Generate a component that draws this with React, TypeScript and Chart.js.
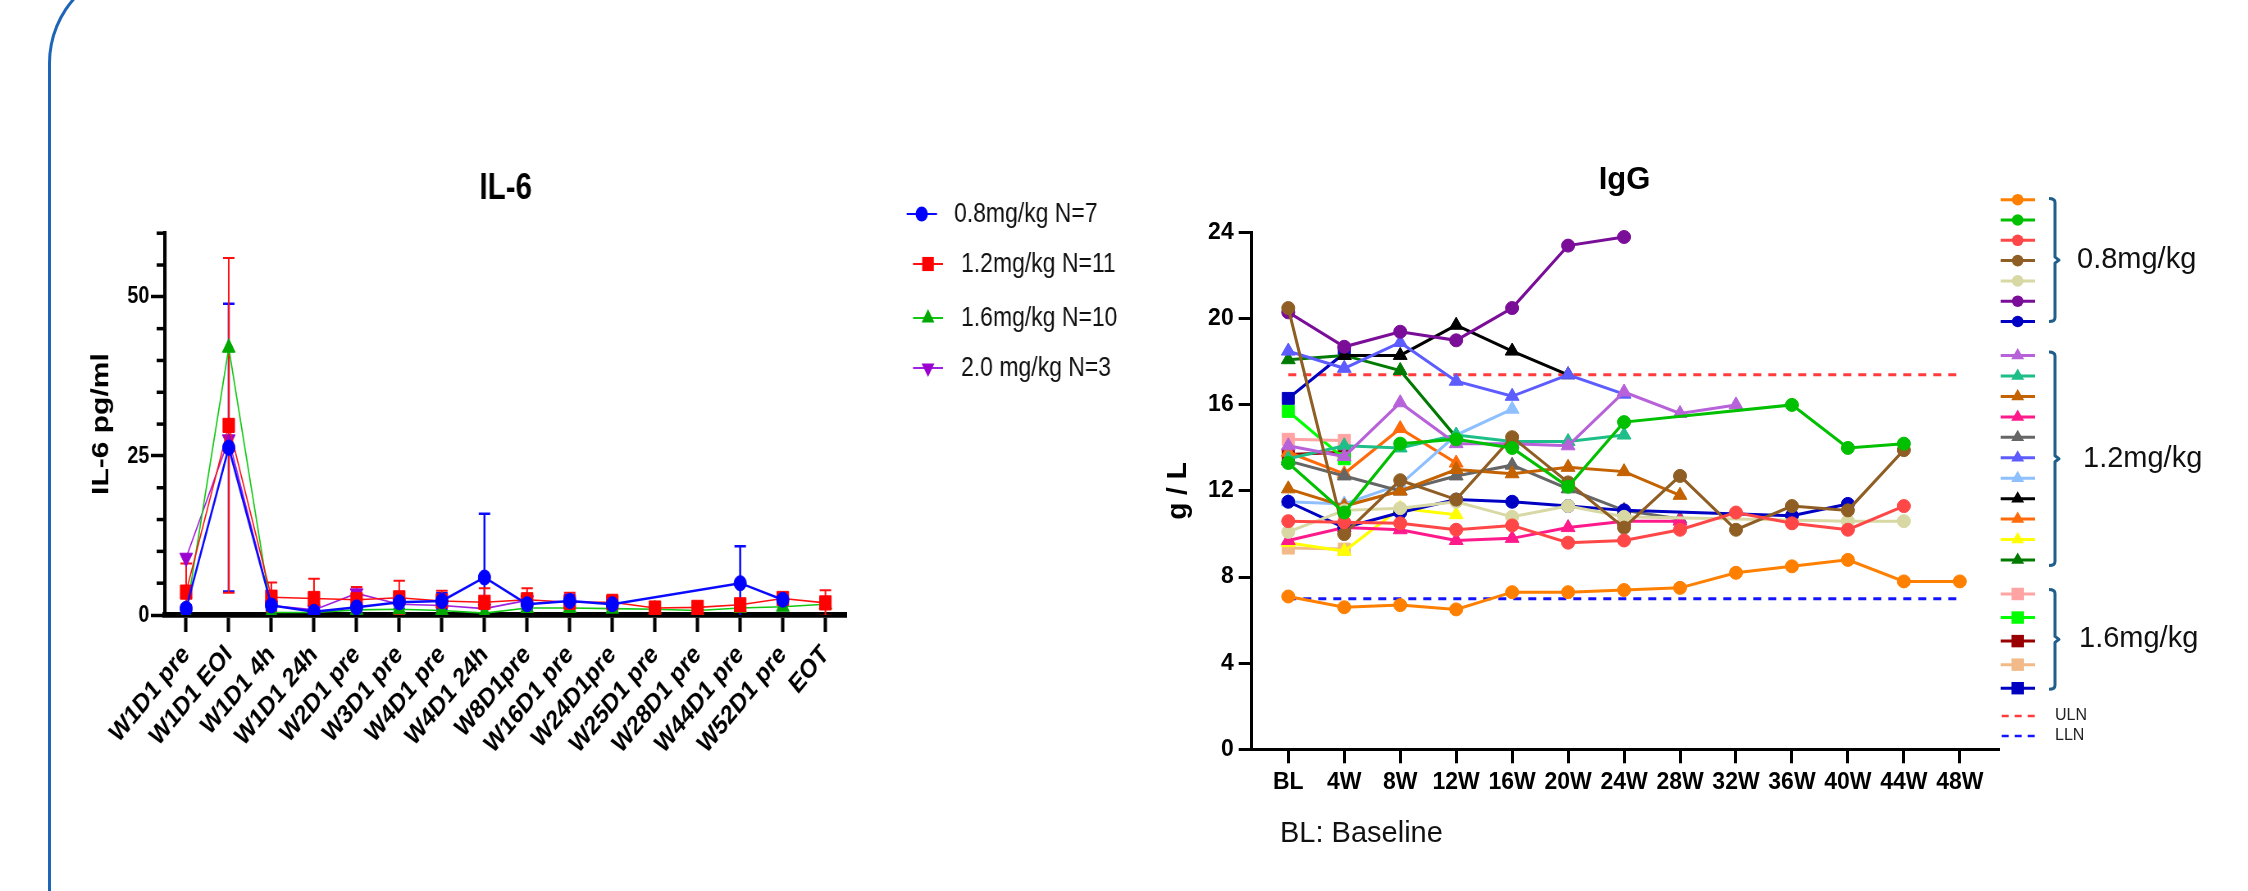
import React, { useEffect, useRef } from 'react';
import { Chart, registerables } from 'chart.js';

Chart.register(...registerables);

const FONT = '"Liberation Sans", Arial, Helvetica, sans-serif';

// ---------------- IL-6 data ----------------
const il6Labels = [
  'W1D1 pre', 'W1D1 EOI', 'W1D1 4h', 'W1D1 24h', 'W2D1 pre', 'W3D1 pre', 'W4D1 pre', 'W4D1 24h',
  'W8D1pre', 'W16D1 pre', 'W24D1pre', 'W25D1 pre', 'W28D1 pre', 'W44D1 pre', 'W52D1 pre', 'EOT',
];
const il6Mean08 = [1.0, 26.3, 1.5, 0.5, 1.2, 2.0, 2.2, 5.9, 1.7, 2.2, 1.7, null, null, 5.0, 2.4, null];
const il6Sd08 = [0.5, 22.6, 0.8, 0.3, 0.6, 1.0, 1.2, 10.0, 0.8, 1.0, 0.6, null, null, 5.8, 0.5, null];
const il6Mean12 = [3.6, 29.8, 2.8, 2.6, 2.4, 2.7, 2.2, 2.0, 2.4, 2.0, 2.0, 1.1, 1.2, 1.6, 2.6, 1.9];
const il6Sd12 = [4.5, 26.3, 2.3, 3.1, 2.0, 2.7, 1.6, 2.2, 1.8, 1.5, 1.2, 0.3, 0.4, 0.8, 0.8, 2.0];
const il6Mean16 = [0.2, 42.0, 0.4, 0.4, 0.8, 0.9, 0.7, 0.3, 1.1, 1.1, 1.0, 0.9, 0.7, 1.1, 1.3, 1.7];
const il6Mean20 = [9.0, 27.6, 1.5, 0.8, 3.4, 1.7, 1.5, 1.0, 2.3, null, null, null, null, null, null, null];
const il6Legend = ['0.8mg/kg N=7', '1.2mg/kg N=11', '1.6mg/kg N=10', '2.0 mg/kg N=3'];

// ---------------- IgG data ----------------
const iggLabels = ['BL', '4W', '8W', '12W', '16W', '20W', '24W', '28W', '32W', '36W', '40W', '44W', '48W'];
const iggULN = 17.4;
const iggLLN = 7.0;
// 0.8 mg/kg (circles)
const igg08Orange = [7.1, 6.6, 6.7, 6.5, 7.3, 7.3, 7.4, 7.5, 8.2, 8.5, 8.8, 7.8, 7.8];
const igg08Green = [13.3, 11.0, 14.2, 14.4, 14.0, 12.2, 15.2, null, null, 16.0, 14.0, 14.2, null];
const igg08Red = [10.6, 10.55, 10.5, 10.2, 10.4, 9.6, 9.7, 10.2, 11.0, 10.5, 10.2, 11.3, null];
const igg08Brown = [20.5, 10.0, 12.5, 11.6, 14.5, 12.4, 10.3, 12.7, 10.2, 11.3, 11.1, 13.9, null];
const igg08Beige = [10.1, 11.1, 11.2, 11.5, 10.8, 11.3, 10.8, null, null, null, 10.6, 10.6, null];
const igg08Purple = [20.3, 18.7, 19.4, 19.0, 20.5, 23.4, 23.8, null, null, null, null, null, null];
const igg08Navy = [11.5, 10.3, 11.0, 11.6, 11.5, 11.3, 11.1, null, null, 10.85, 11.4, null, null];
// 1.2 mg/kg (triangles)
const igg12Orchid = [14.1, 13.6, 16.1, 14.2, 14.2, 14.1, 16.6, 15.6, 16.0, null, null, null, null];
const igg12Teal = [13.5, 14.1, 14.0, 14.6, 14.3, 14.3, 14.6, null, null, null, null, null, null];
const igg12Rust = [12.1, 11.3, 12.0, 13.0, 12.8, 13.1, 12.9, 11.8, null, null, null, null, null];
const igg12Pink = [9.7, 10.3, 10.2, 9.7, 9.8, 10.3, 10.6, 10.6, null, null, null, null, null];
const igg12Gray = [13.4, 12.7, 12.0, 12.7, 13.2, 12.1, 11.1, 10.7, null, null, null, null, null];
const igg12Blue = [18.5, 17.7, 18.9, 17.1, 16.4, 17.4, 16.5, null, null, null, null, null, null];
const igg12Sky = [11.5, 11.4, 12.3, 14.6, 15.8, null, null, null, null, null, null, null, null];
const igg12Black = [null, 18.3, 18.3, 19.7, 18.5, 17.4, null, null, null, null, null, null, null];
const igg12Orange = [13.8, 12.8, 14.9, 13.3, null, null, null, null, null, null, null, null, null];
const igg12Yellow = [9.6, 9.2, 11.2, 10.9, null, null, null, null, null, null, null, null, null];
const igg12Green = [18.1, 18.3, 17.6, 14.5, null, null, null, null, null, null, null, null, null];
// 1.6 mg/kg (squares)
const igg16Pink = [14.4, 14.35, null, null, null, null, null, null, null, null, null, null, null];
const igg16Lime = [15.7, 13.5, null, null, null, null, null, null, null, null, null, null, null];
const igg16Maroon = [13.7, 13.8, null, null, null, null, null, null, null, null, null, null, null];
const igg16Peach = [9.35, 9.3, null, null, null, null, null, null, null, null, null, null, null];
const igg16Navy = [16.3, 18.4, null, null, null, null, null, null, null, null, null, null, null];
const iggGroups = ['0.8mg/kg', '1.2mg/kg', '1.6mg/kg'];

// ---------------- styles ----------------
const iggSeries = [
  { data: igg08Orange, color: '#FF8000', style: 'circle', group: 0 },
  { data: igg08Green, color: '#00C000', style: 'circle', group: 0 },
  { data: igg08Red, color: '#FF4747', style: 'circle', group: 0 },
  { data: igg08Brown, color: '#8F5E24', style: 'circle', group: 0 },
  { data: igg08Beige, color: '#D8D8A4', style: 'circle', group: 0 },
  { data: igg08Purple, color: '#7A0E98', style: 'circle', group: 0 },
  { data: igg08Navy, color: '#0000C4', style: 'circle', group: 0 },
  { data: igg12Orchid, color: '#B862DA', style: 'triangle', group: 1 },
  { data: igg12Teal, color: '#1EBE88', style: 'triangle', group: 1 },
  { data: igg12Rust, color: '#C46200', style: 'triangle', group: 1 },
  { data: igg12Pink, color: '#FF1A8C', style: 'triangle', group: 1 },
  { data: igg12Gray, color: '#666666', style: 'triangle', group: 1 },
  { data: igg12Blue, color: '#5C5CFF', style: 'triangle', group: 1 },
  { data: igg12Sky, color: '#8EC0FF', style: 'triangle', group: 1 },
  { data: igg12Black, color: '#000000', style: 'triangle', group: 1 },
  { data: igg12Orange, color: '#FF6A0A', style: 'triangle', group: 1 },
  { data: igg12Yellow, color: '#FFFF00', style: 'triangle', group: 1 },
  { data: igg12Green, color: '#007A00', style: 'triangle', group: 1 },
  { data: igg16Pink, color: '#FFA3A3', style: 'rect', group: 2 },
  { data: igg16Lime, color: '#00FF00', style: 'rect', group: 2 },
  { data: igg16Maroon, color: '#990000', style: 'rect', group: 2 },
  { data: igg16Peach, color: '#F2BA88', style: 'rect', group: 2 },
  { data: igg16Navy, color: '#0000C0', style: 'rect', group: 2 },
];
const IGG_RADIUS: Record<string, number> = { circle: 6.5, triangle: 8, rect: 8.5 };

const il6Styles = [
  { line: '#0A0AFF', fill: '#0000FF', style: 'circle', rot: 0, radius: 7.5, width: 2.5 },
  { line: '#FF1010', fill: '#FF0000', style: 'rect', rot: 0, radius: 10, width: 1.6 },
  { line: '#10C810', fill: '#00A800', style: 'triangle', rot: 0, radius: 9, width: 1.6 },
  { line: '#A020E0', fill: '#9A00D0', style: 'triangle', rot: 180, radius: 9, width: 1.6 },
];

const S = 0.82; // horizontal compression of the IL-6 panel

function drawMarker(ctx: CanvasRenderingContext2D, style: string, x: number, y: number, r: number, color: string, rot = 0) {
  ctx.save();
  ctx.fillStyle = color;
  ctx.beginPath();
  if (style === 'circle') {
    ctx.arc(x, y, r, 0, Math.PI * 2);
  } else if (style === 'rect') {
    const s = r * Math.SQRT1_2;
    ctx.rect(x - s, y - s, 2 * s, 2 * s);
  } else {
    const d = rot === 180 ? -1 : 1;
    ctx.moveTo(x, y - d * r);
    ctx.lineTo(x + r * 0.866, y + d * r * 0.5);
    ctx.lineTo(x - r * 0.866, y + d * r * 0.5);
    ctx.closePath();
  }
  ctx.fill();
  ctx.restore();
}

function drawText(ctx: CanvasRenderingContext2D, str: string, x: number, y: number, font: string, align: CanvasTextAlign = 'left', rot = 0, color = '#000') {
  ctx.save();
  ctx.translate(x, y);
  if (rot) ctx.rotate(rot);
  ctx.font = font;
  ctx.fillStyle = color;
  ctx.textAlign = align;
  ctx.textBaseline = 'middle';
  ctx.fillText(str, 0, 0);
  ctx.restore();
}

function IL6Panel() {
  const ref = useRef<HTMLCanvasElement>(null);
  useEffect(() => {
    const means = [il6Mean08, il6Mean12, il6Mean16, il6Mean20];
    const sds = [il6Sd08, il6Sd12, null, null];
    const decor = {
      id: 'il6Decor',
      beforeDatasetsDraw(chart: any) {
        const { ctx, chartArea } = chart;
        const ys = chart.scales.y;
        ctx.save();
        ctx.strokeStyle = '#000';
        ctx.lineWidth = 3.5;
        for (let v = 5; v <= 60; v += 5) {
          if (v % 25 === 0) continue;
          const py = ys.getPixelForValue(v);
          ctx.beginPath();
          ctx.moveTo(chartArea.left - 10, py);
          ctx.lineTo(chartArea.left, py);
          ctx.stroke();
        }
        ctx.restore();
        ctx.save();
        ctx.beginPath();
        ctx.rect(chartArea.left, chartArea.top - 5, chartArea.right - chartArea.left, chartArea.bottom - chartArea.top + 5);
        ctx.clip();
        sds.forEach((sd, i) => {
          if (!sd) return;
          const meta = chart.getDatasetMeta(i);
          ctx.strokeStyle = il6Styles[i].line;
          ctx.lineWidth = i === 0 ? 2.5 : 2;
          meta.data.forEach((pt: any, j: number) => {
            const m = means[i][j];
            const e = sd[j];
            if (m == null || e == null) return;
            const yt = ys.getPixelForValue(m + e);
            const yb = ys.getPixelForValue(m - e);
            ctx.beginPath();
            ctx.moveTo(pt.x, yt);
            ctx.lineTo(pt.x, yb);
            ctx.moveTo(pt.x - 7, yt);
            ctx.lineTo(pt.x + 7, yt);
            ctx.moveTo(pt.x - 7, yb);
            ctx.lineTo(pt.x + 7, yb);
            ctx.stroke();
          });
        });
        ctx.restore();
      },
      afterDraw(chart: any) {
        const { ctx, chartArea } = chart;
        drawText(ctx, 'IL-6', (chartArea.left + chartArea.right) / 2, 189, `bold 36px ${FONT}`, 'center');
        drawText(ctx, 'IL-6 pg/ml', 124, (chartArea.top + chartArea.bottom) / 2, `bold 30px ${FONT}`, 'center', -Math.PI / 2);
        const items = [
          { x0: 1105.7, x1: 1142.7, mx: 1124, tx: 1163.4, y: 214 },
          { x0: 1113.4, x1: 1150, mx: 1131.7, tx: 1172, y: 264 },
          { x0: 1113.4, x1: 1150, mx: 1131.7, tx: 1172, y: 318 },
          { x0: 1113.4, x1: 1150, mx: 1131.7, tx: 1172, y: 368 },
        ];
        items.forEach((it, i) => {
          const st = il6Styles[i];
          ctx.save();
          ctx.strokeStyle = st.line;
          ctx.lineWidth = 2;
          ctx.beginPath();
          ctx.moveTo(it.x0, it.y);
          ctx.lineTo(it.x1, it.y);
          ctx.stroke();
          ctx.restore();
          drawMarker(ctx, st.style, it.mx, it.y, st.radius, st.fill, st.rot);
          drawText(ctx, il6Legend[i], it.tx, it.y, `28px ${FONT}`, 'left', 0, '#111');
        });
      },
    };
    const chart = new Chart(ref.current!, {
      type: 'line',
      data: {
        labels: il6Labels,
        datasets: means.map((m, i) => ({
          label: il6Legend[i],
          data: m,
          borderColor: il6Styles[i].line,
          backgroundColor: il6Styles[i].fill,
          pointBackgroundColor: il6Styles[i].fill,
          pointBorderColor: il6Styles[i].fill,
          pointBorderWidth: 1,
          pointStyle: il6Styles[i].style as any,
          pointRotation: il6Styles[i].rot,
          pointRadius: il6Styles[i].radius,
          borderWidth: il6Styles[i].width,
          spanGaps: true,
          tension: 0,
        })),
      },
      options: {
        responsive: false,
        animation: false,
        events: [],
        layout: { padding: { left: 0, top: 233.2, right: 357.4, bottom: 116 } },
        plugins: { legend: { display: false }, title: { display: false }, tooltip: { enabled: false } },
        scales: {
          x: {
            offset: true,
            grid: { display: true, drawOnChartArea: false, drawTicks: true, tickLength: 17, tickWidth: 4.1, tickColor: '#000', offset: false },
            border: { display: true, color: '#000', width: 5.7 },
            ticks: { autoSkip: false, maxRotation: 45, minRotation: 45, color: '#000', padding: 7, font: { family: FONT, size: 27, weight: 'bold' } },
            afterFit: (s: any) => { s.height = 160; },
          },
          y: {
            min: 0,
            max: 60,
            grid: {
              display: true, drawOnChartArea: false, drawTicks: true, tickLength: 17, tickWidth: 3.5,
              tickColor: (c: any) => (c.tick && c.tick.value % 25 === 0 ? '#000' : 'rgba(0,0,0,0)'),
            },
            border: { display: true, color: '#000', width: 4.1 },
            ticks: {
              stepSize: 5, autoSkip: false, color: '#000', padding: 2,
              font: { family: FONT, size: 24, weight: 'bold' },
              callback: (v: any) => (Number(v) % 25 === 0 ? String(v) : ''),
            },
            afterFit: (s: any) => { s.width = 201; },
          },
        },
      },
      plugins: [decor],
    } as any);
    return () => chart.destroy();
  }, []);
  return (
    <canvas
      ref={ref}
      width={1390}
      height={891}
      style={{ position: 'absolute', left: 0, top: 0, transform: `scaleX(${S})`, transformOrigin: '0 0' }}
    />
  );
}

function IgGPanel() {
  const ref = useRef<HTMLCanvasElement>(null);
  useEffect(() => {
    const decor = {
      id: 'iggDecor',
      afterDraw(chart: any) {
        const { ctx, chartArea } = chart;
        drawText(ctx, 'IgG', 474.5, 180, `bold 31px ${FONT}`, 'center');
        drawText(ctx, 'g / L', 28, (chartArea.top + chartArea.bottom) / 2, `bold 28px ${FONT}`, 'center', -Math.PI / 2);
        drawText(ctx, 'BL: Baseline', 130, 834, `29px ${FONT}`, 'left', 0, '#111');
        const groupStart = [199.7, 355.6, 594];
        const groupStep = [20.3, 20.44, 23.55];
        const counters = [0, 0, 0];
        iggSeries.forEach((s) => {
          const g = s.group;
          const y = groupStart[g] + groupStep[g] * counters[g]++;
          ctx.save();
          ctx.strokeStyle = s.color;
          ctx.lineWidth = 3;
          ctx.beginPath();
          ctx.moveTo(850.7, y);
          ctx.lineTo(885, y);
          ctx.stroke();
          ctx.restore();
          const r = s.style === 'circle' ? 5.8 : s.style === 'triangle' ? 7.5 : 8.8;
          drawMarker(ctx, s.style, 867.7, y, r, s.color);
        });
        const brackets = [
          { top: 198.6, bot: 321.6, tx: 927 },
          { top: 352, bot: 565.5, tx: 933 },
          { top: 589.5, bot: 689.3, tx: 929 },
        ];
        brackets.forEach((b, i) => {
          const x = 905;
          const mid = (b.top + b.bot) / 2;
          ctx.save();
          ctx.strokeStyle = '#1F5F8C';
          ctx.lineWidth = 3;
          ctx.lineJoin = 'round';
          ctx.beginPath();
          ctx.moveTo(x - 6, b.top);
          ctx.quadraticCurveTo(x, b.top, x, b.top + 4);
          ctx.lineTo(x, mid - 3);
          ctx.lineTo(x + 4, mid);
          ctx.lineTo(x, mid + 3);
          ctx.lineTo(x, b.bot - 4);
          ctx.quadraticCurveTo(x, b.bot, x - 6, b.bot);
          ctx.stroke();
          ctx.restore();
          drawText(ctx, iggGroups[i], b.tx, mid, `29px ${FONT}`, 'left', 0, '#111');
        });
        [['ULN', '#FF3B3B', 716], ['LLN', '#1414FF', 736]].forEach(([t, c, y]: any) => {
          ctx.save();
          ctx.strokeStyle = c;
          ctx.lineWidth = 2.5;
          ctx.setLineDash([7, 6]);
          ctx.beginPath();
          ctx.moveTo(851.7, y);
          ctx.lineTo(886, y);
          ctx.stroke();
          ctx.restore();
          drawText(ctx, t, 905, y, `16px ${FONT}`, 'left', 0, '#222');
        });
      },
    };
    const last = iggLabels.length - 1;
    const datasets: any[] = iggSeries.map((s) => ({
      data: s.data.map((v, i) => ({ x: i, y: v })),
      borderColor: s.color,
      backgroundColor: s.color,
      pointBackgroundColor: s.color,
      pointBorderColor: s.color,
      pointBorderWidth: 1,
      pointStyle: s.style,
      pointRadius: IGG_RADIUS[s.style],
      borderWidth: 3,
      spanGaps: true,
      tension: 0,
      clip: false,
    }));
    datasets.push({
      data: [{ x: 0, y: iggULN }, { x: last, y: iggULN }],
      borderColor: '#FF3B3B', borderDash: [8, 7], borderWidth: 3, pointRadius: 0, clip: false,
    });
    datasets.push({
      data: [{ x: 0, y: iggLLN }, { x: last, y: iggLLN }],
      borderColor: '#1414FF', borderDash: [8, 7], borderWidth: 3, pointRadius: 0, clip: false,
    });
    const chart = new Chart(ref.current!, {
      type: 'line',
      data: { datasets },
      options: {
        responsive: false,
        animation: false,
        events: [],
        layout: { padding: { left: 0, top: 232.7, right: 249, bottom: 81.7 } },
        plugins: { legend: { display: false }, title: { display: false }, tooltip: { enabled: false } },
        scales: {
          x: {
            type: 'linear',
            min: -0.654,
            max: 12.7,
            afterBuildTicks: (s: any) => { s.ticks = iggLabels.map((_, i) => ({ value: i })); },
            grid: { display: true, drawOnChartArea: false, drawTicks: true, tickLength: 14, tickWidth: 3, tickColor: '#000' },
            border: { display: true, color: '#000', width: 3 },
            ticks: {
              autoSkip: false, maxRotation: 0, minRotation: 0, color: '#000', padding: 6,
              font: { family: FONT, size: 23, weight: 'bold' },
              callback: (v: any) => iggLabels[v] ?? '',
            },
            afterFit: (s: any) => { s.height = 60; },
          },
          y: {
            min: 0,
            max: 24,
            grid: { display: true, drawOnChartArea: false, drawTicks: true, tickLength: 13, tickWidth: 3, tickColor: '#000' },
            border: { display: true, color: '#000', width: 3 },
            ticks: { stepSize: 4, color: '#000', padding: 5, font: { family: FONT, size: 23, weight: 'bold' } },
            afterFit: (s: any) => { s.width = 101.7; },
          },
        },
      },
      plugins: [decor],
    } as any);
    return () => chart.destroy();
  }, []);
  return <canvas ref={ref} width={1098} height={891} style={{ position: 'absolute', left: 1150, top: 0 }} />;
}

export default function App() {
  return (
    <div style={{ position: 'absolute', left: 0, top: 0, width: 2248, height: 891, overflow: 'hidden', background: '#fff' }}>
      <div
        style={{
          position: 'absolute', left: 47.5, top: -35, width: 2400, height: 1100,
          borderLeft: '3px solid #1F65B7', borderTop: '3px solid #1F65B7', borderTopLeftRadius: 98,
        }}
      />
      <IL6Panel />
      <IgGPanel />
    </div>
  );
}
